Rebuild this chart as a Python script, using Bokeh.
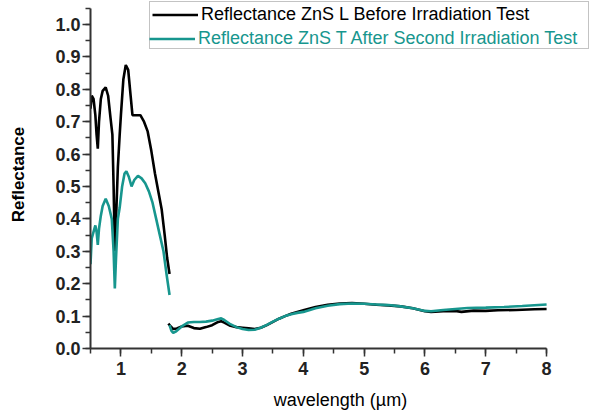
import numpy as np
from bokeh.plotting import figure
from bokeh.models import (Range1d, SingleIntervalTicker, PrintfTickFormatter,
                          Legend, LegendItem)
from bokeh.embed import file_html
from bokeh.resources import INLINE

FONT = "Liberation Sans"
TEAL = "#17968e"

# --- data: L before irradiation (black) ---
bx1 = [0.50, 0.52, 0.55, 0.58, 0.60, 0.62, 0.64, 0.67, 0.70, 0.75, 0.79, 0.83,
       0.86, 0.88, 0.90, 0.92, 0.95, 0.98, 1.00, 1.04, 1.08, 1.12, 1.16, 1.19,
       1.25, 1.32, 1.38, 1.44, 1.50, 1.56, 1.62, 1.67, 1.72, 1.76, 1.80]
by1 = [0.74, 0.78, 0.77, 0.72, 0.66, 0.617, 0.70, 0.77, 0.795, 0.806, 0.78, 0.71,
       0.66, 0.50, 0.30, 0.40, 0.56, 0.66, 0.72, 0.83, 0.875, 0.86, 0.78, 0.72,
       0.72, 0.72, 0.70, 0.67, 0.61, 0.54, 0.48, 0.43, 0.35, 0.28, 0.23]
bx2 = [1.78, 1.82, 1.86, 1.92, 2.0, 2.1, 2.2, 2.3, 2.4, 2.5, 2.6, 2.65, 2.7, 2.8,
       2.9, 3.0, 3.1, 3.2, 3.3, 3.4, 3.5, 3.6, 3.7, 3.8, 3.9, 4.0, 4.2, 4.4, 4.6,
       4.8, 5.0, 5.2, 5.4, 5.6, 5.8, 6.0, 6.1, 6.3, 6.5, 6.6, 6.8, 7.0, 7.2, 7.5,
       7.8, 8.0]
by2 = [0.077, 0.068, 0.060, 0.062, 0.068, 0.070, 0.063, 0.061, 0.066, 0.072,
       0.082, 0.084, 0.080, 0.070, 0.066, 0.064, 0.062, 0.060, 0.064, 0.072,
       0.082, 0.092, 0.100, 0.107, 0.113, 0.118, 0.128, 0.135, 0.139, 0.140,
       0.138, 0.135, 0.133, 0.130, 0.124, 0.115, 0.113, 0.115, 0.116, 0.113,
       0.117, 0.116, 0.118, 0.119, 0.121, 0.122]

# --- data: T after second irradiation (teal) ---
tx1 = [0.50, 0.52, 0.55, 0.58, 0.60, 0.62, 0.64, 0.67, 0.70, 0.75, 0.80, 0.85,
       0.88, 0.90, 0.92, 0.95, 0.98, 1.02, 1.06, 1.09, 1.13, 1.175, 1.22, 1.28,
       1.34, 1.40, 1.46, 1.52, 1.58, 1.64, 1.70, 1.75, 1.80]
ty1 = [0.26, 0.34, 0.36, 0.38, 0.36, 0.32, 0.37, 0.41, 0.44, 0.462, 0.44, 0.40,
       0.30, 0.185, 0.28, 0.40, 0.435, 0.50, 0.54, 0.547, 0.53, 0.50, 0.52, 0.533,
       0.525, 0.51, 0.485, 0.45, 0.40, 0.35, 0.30, 0.23, 0.165]
tx2 = [1.80, 1.83, 1.86, 1.9, 2.0, 2.1, 2.2, 2.3, 2.4, 2.5, 2.6, 2.65, 2.7, 2.8,
       2.9, 3.0, 3.1, 3.2, 3.3, 3.4, 3.5, 3.6, 3.7, 3.8, 3.9, 4.0, 4.2, 4.4, 4.6,
       4.8, 5.0, 5.2, 5.4, 5.6, 5.8, 6.0, 6.1, 6.3, 6.5, 6.7, 7.0, 7.3, 7.6, 8.0]
ty2 = [0.072, 0.055, 0.048, 0.052, 0.068, 0.080, 0.082, 0.082, 0.083, 0.086,
       0.091, 0.093, 0.088, 0.075, 0.066, 0.060, 0.057, 0.058, 0.064, 0.073,
       0.083, 0.092, 0.100, 0.106, 0.110, 0.113, 0.124, 0.132, 0.137, 0.139,
       0.138, 0.136, 0.134, 0.130, 0.124, 0.116, 0.115, 0.119, 0.122, 0.125,
       0.126, 0.128, 0.131, 0.136]

label_black = "Reflectance ZnS L Before Irradiation Test"
label_teal = "Reflectance ZnS T After Second Irradiation Test"

x_start, x_end = 0.5, 8.0
y_start, y_end = 0.0, 1.05

bx = bx1 + [np.nan] + bx2
by = by1 + [np.nan] + by2
tx = tx1 + [np.nan] + tx2
ty = ty1 + [np.nan] + ty2

# frame is widened beyond the axes (axes limited by bounds) so the legend fits
p = figure(width=591, height=419, output_backend="svg", toolbar_location=None,
           x_range=Range1d(x_start, 8.722), y_range=Range1d(y_start, 1.074),
           min_border_left=90, min_border_right=1, min_border_top=0,
           min_border_bottom=71)
p.grid.visible = False
p.outline_line_color = None
p.background_fill_color = "white"

r_black = p.line(bx, by, line_color="black", line_width=2.6)
r_teal = p.line(tx, ty, line_color=TEAL, line_width=2.6)
r_dummy = p.line([], [], line_color=None, line_alpha=0)

for ax in (p.xaxis[0], p.yaxis[0]):
    ax.axis_line_color = "#333333"
    ax.axis_line_width = 2
    ax.major_tick_line_color = "#333333"
    ax.minor_tick_line_color = "#333333"
    ax.major_tick_line_width = 1.5
    ax.minor_tick_line_width = 1.5
    ax.major_tick_in = 0
    ax.major_tick_out = 8
    ax.minor_tick_in = 0
    ax.minor_tick_out = 5
    ax.major_label_text_font = FONT
    ax.major_label_text_font_style = "bold"
    ax.major_label_text_font_size = "18px"
    ax.major_label_text_color = "#222222"
    ax.axis_label_text_font = FONT
    ax.axis_label_text_color = "black"

p.xaxis.bounds = (x_start, x_end)
p.yaxis.bounds = (y_start, y_end)
p.xaxis.ticker = SingleIntervalTicker(interval=1, num_minor_ticks=2)
p.yaxis.ticker = SingleIntervalTicker(interval=0.1, num_minor_ticks=2)
p.xaxis.formatter = PrintfTickFormatter(format="%d")
p.yaxis.formatter = PrintfTickFormatter(format="%.1f")
p.xaxis.major_label_standoff = 5
p.yaxis.major_label_standoff = 2
p.xaxis.axis_label = "wavelength (\u00b5m)"
p.xaxis.axis_label_text_font_style = "normal"
p.xaxis.axis_label_text_font_size = "18px"
p.xaxis.axis_label_standoff = 12
p.yaxis.axis_label = "Reflectance"
p.yaxis.axis_label_text_font_style = "bold"
p.yaxis.axis_label_text_font_size = "17px"
p.yaxis.axis_label_standoff = 24

common = dict(location=(59, 299), orientation="vertical", padding=2, spacing=0,
              margin=0, label_height=21, glyph_height=21, glyph_width=46,
              label_standoff=3, label_text_font=FONT, label_text_font_size="18px",
              label_width=385)

legA = Legend(items=[LegendItem(label=label_black, renderers=[r_black]),
                     LegendItem(label=" ", renderers=[r_dummy])],
              border_line_color="#888888", border_line_width=1,
              background_fill_color="white", background_fill_alpha=1,
              label_text_color="black", **common)
legB = Legend(items=[LegendItem(label=label_teal, renderers=[r_teal])],
              border_line_color=None, background_fill_alpha=0,
              label_text_color=TEAL, **common)
p.add_layout(legA, "center")
p.add_layout(legB, "center")

open("out.html", "w").write(file_html(p, INLINE))
